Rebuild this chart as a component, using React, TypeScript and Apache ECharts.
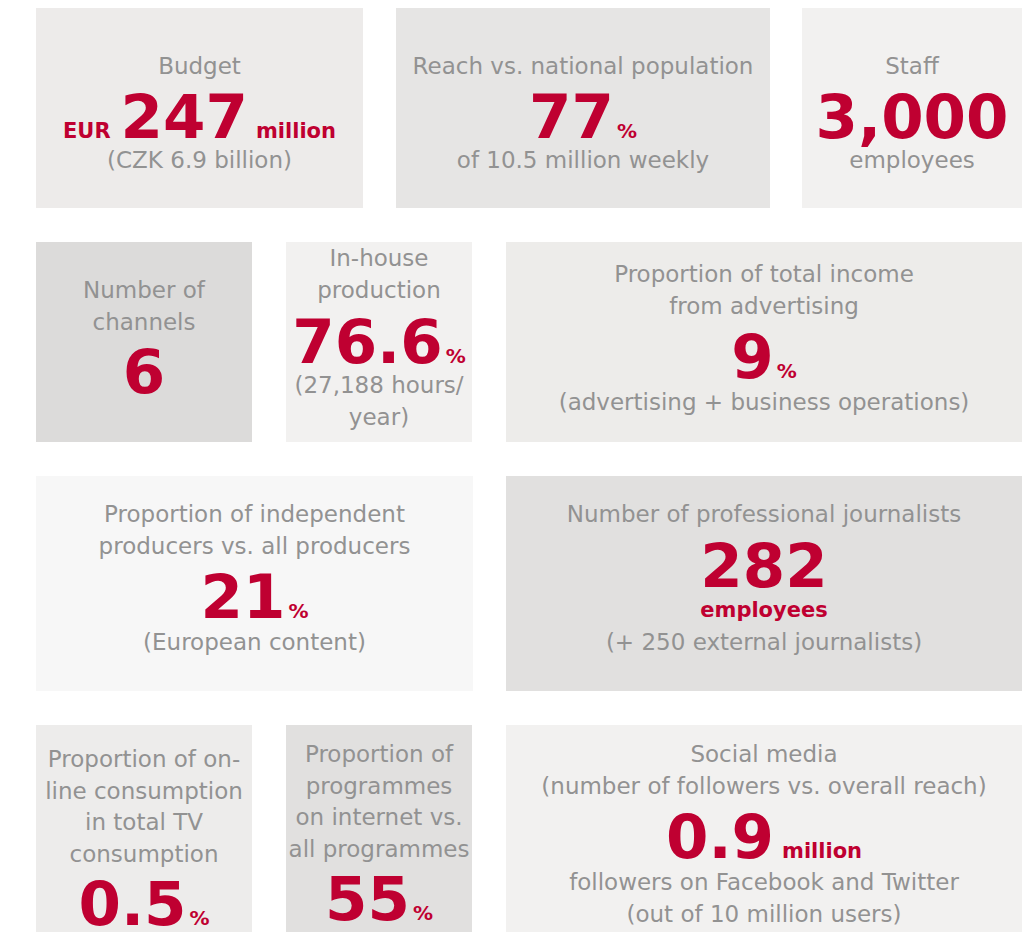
import React, { useEffect, useRef } from "react";
import * as echarts from "echarts";

// ---- data ----
const tileTitles: string[][] = [
  ["Budget"],
  ["Reach vs. national population"],
  ["Staff"],
  ["Number of", "channels"],
  ["In-house", "production"],
  ["Proportion of total income", "from advertising"],
  ["Proportion of independent", "producers vs. all producers"],
  ["Number of professional journalists"],
  ["Proportion of on-", "line consumption", "in total TV", "consumption"],
  ["Proportion of", "programmes", "on internet vs.", "all programmes"],
  ["Social media", "(number of followers vs. overall reach)"],
];
const tilePrefixes: string[] = ["EUR", "", "", "", "", "", "", "", "", "", ""];
const tileValues: string[] = ["247", "77", "3,000", "6", "76.6", "9", "21", "282", "0.5", "55", "0.9"];
const tileUnits: string[] = ["million", "%", "", "", "%", "%", "%", "", "%", "%", "million"];
const tileSubs: string[] = ["", "", "", "", "", "", "", "employees", "", "", ""];
const tileNotes: string[][] = [
  ["(CZK 6.9 billion)"],
  ["of 10.5 million weekly"],
  ["employees"],
  [],
  ["(27,188 hours/", "year)"],
  ["(advertising + business operations)"],
  ["(European content)"],
  ["(+ 250 external journalists)"],
  [],
  [],
  ["followers on Facebook and Twitter", "(out of 10 million users)"],
];

// ---- layout (positions / styles) ----
type Layout = { x: number; y: number; w: number; h: number; fill: string; title: number; value: number; sub?: number; note?: number };
const layouts: Layout[] = [
  { x: 36, y: 8, w: 327, h: 200, fill: "#edebea", title: 74, value: 138, note: 168 },
  { x: 396, y: 8, w: 374, h: 200, fill: "#e6e5e4", title: 74, value: 138, note: 168 },
  { x: 802, y: 8, w: 220, h: 200, fill: "#f2f1f0", title: 74, value: 138, note: 168 },
  { x: 36, y: 242, w: 216, h: 200, fill: "#dcdbda", title: 298, value: 393 },
  { x: 286, y: 242, w: 186, h: 200, fill: "#f2f1f0", title: 266, value: 363, note: 393 },
  { x: 506, y: 242, w: 516, h: 200, fill: "#edecea", title: 282, value: 378, note: 410 },
  { x: 36, y: 476, w: 437, h: 215, fill: "#f7f7f7", title: 522, value: 618, note: 650 },
  { x: 506, y: 476, w: 516, h: 215, fill: "#e1e0df", title: 522, value: 587, sub: 617, note: 650 },
  { x: 36, y: 725, w: 216, h: 215, fill: "#edeceb", title: 767, value: 925 },
  { x: 286, y: 725, w: 186, h: 215, fill: "#e1e0df", title: 762, value: 920 },
  { x: 506, y: 725, w: 516, h: 215, fill: "#f2f1f0", title: 762, value: 858, note: 890 },
];

const GRAY = "#929292";
const RED = "#bf0031";
const FONT = '"DejaVu Sans", sans-serif';
const LINE = 31.6;
const TXT = 23;
const BIG = 61;
const UNIT_PCT = 20;
const UNIT_WORD = 21;
const K = 0.346; // baseline offset for 'middle'

let ctx: CanvasRenderingContext2D | null = null;
function measure(t: string, size: number, weight: string) {
  if (!ctx) ctx = document.createElement("canvas").getContext("2d");
  ctx!.font = `${weight} ${size}px ${FONT}`;
  return ctx!.measureText(t).width;
}

function txt(x: number, base: number, text: string, size: number, weight: string, color: string, align: string, lh?: number) {
  return {
    type: "text",
    x,
    y: base - K * size,
    silent: true,
    style: {
      text,
      fill: color,
      font: `${weight} ${size}px ${FONT}`,
      align,
      verticalAlign: "middle",
      lineHeight: lh ?? Math.round(size * 1.15),
    },
  };
}

function buildGraphics() {
  const els: any[] = [];
  layouts.forEach((L, i) => {
    const cx = L.x + L.w / 2;
    els.push({ type: "rect", shape: { x: L.x, y: L.y, width: L.w, height: L.h }, style: { fill: L.fill }, silent: true });
    tileTitles[i].forEach((line, j) => {
      els.push(txt(cx, L.title + j * LINE, line, TXT, "normal", GRAY, "center", 24));
    });
    // value row
    const pieces: { t: string; size: number; gap: number }[] = [];
    if (tilePrefixes[i]) pieces.push({ t: tilePrefixes[i], size: UNIT_WORD, gap: 10 });
    pieces.push({ t: tileValues[i], size: BIG, gap: 0 });
    if (tileUnits[i]) {
      const pct = tileUnits[i] === "%";
      pieces[pieces.length - 1].gap = pct ? 3 : 8;
      pieces.push({ t: tileUnits[i], size: pct ? UNIT_PCT : UNIT_WORD, gap: 0 });
    }
    const widths = pieces.map((p) => measure(p.t, p.size, "bold"));
    let total = 0;
    pieces.forEach((p, k) => (total += widths[k] + (k < pieces.length - 1 ? p.gap : 0)));
    let px = cx - total / 2;
    pieces.forEach((p, k) => {
      const isBig = p.size === BIG;
      els.push(txt(px, L.value, p.t, p.size, "bold", RED, "left", isBig ? 44 : 18));
      px += widths[k] + p.gap;
    });
    if (tileSubs[i] && L.sub !== undefined) {
      els.push(txt(cx, L.sub, tileSubs[i], UNIT_WORD, "bold", RED, "center", 20));
    }
    if (L.note !== undefined) {
      tileNotes[i].forEach((line, j) => {
        els.push(txt(cx, L.note! + j * LINE, line, TXT, "normal", GRAY, "center", 24));
      });
    }
  });
  return els;
}

export default function App() {
  const ref = useRef<HTMLDivElement>(null);
  useEffect(() => {
    if (!ref.current) return;
    const chart = echarts.init(ref.current, undefined, { renderer: "svg" });
    chart.setOption({
      animation: false,
      backgroundColor: "#ffffff",
      graphic: { elements: buildGraphics() },
    });
    return () => chart.dispose();
  }, []);
  return (
    <div
      ref={ref}
      style={{ position: "fixed", left: 0, top: 0, width: 1033, height: 932, background: "#fff" }}
    />
  );
}
